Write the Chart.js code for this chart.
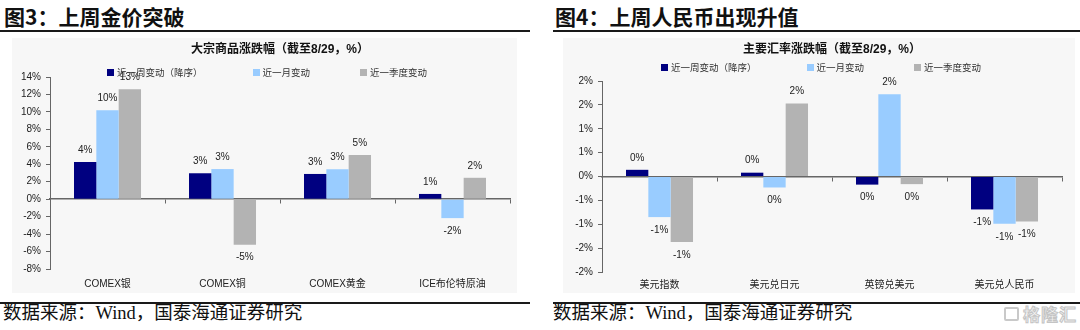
<!DOCTYPE html>
<html>
<head>
<meta charset="utf-8">
<script src="https://cdn.jsdelivr.net/npm/chart.js@4.4.1/dist/chart.umd.min.js"></script>
<style>
  html, body { margin: 0; padding: 0; background: #fff; width: 1080px; height: 330px; overflow: hidden; }
  .heading { position: absolute; top: 3px; font: bold 21px "Noto Sans CJK SC", sans-serif; color: #111; white-space: nowrap; line-height: 26px; }
  .rule { position: absolute; height: 2px; background: #1a1a1a; }
  .box { position: absolute; top: 38px; height: 255px; background: #f7f7f7; }
  .box canvas { position: absolute; left: 0; top: 0; }
  .ctitle { position: absolute; font: bold 12px "Liberation Sans", "Noto Sans CJK SC", sans-serif; color: #111; white-space: nowrap; transform: translate(-50%, -50%); }
  .legend { position: absolute; display: flex; align-items: center; gap: 50px; transform: translateY(-50%); font: 9.5px "Noto Sans CJK SC", sans-serif; color: #333; white-space: nowrap; }
  .legend .item { display: flex; align-items: center; }
  .legend .sw { width: 7px; height: 7px; margin-right: 3px; }
  .source { position: absolute; top: 302px; font: 18.5px "Liberation Serif", "Noto Sans CJK SC", serif; color: #111; white-space: nowrap; line-height: 23px; }
  .mark { position: absolute; left: 1004px; top: 304px; display: flex; align-items: center; gap: 4px; }
  .mark .icon { width: 15px; height: 14px; border: 2px solid #c9c9c9; border-radius: 2px; box-sizing: border-box; }
  .mark .txt { font: bold 17px "Noto Sans CJK SC", sans-serif; color: #f3f3f3; -webkit-text-stroke: 1px #c4c4c4; letter-spacing: 1px; line-height: 20px; }
</style>
</head>
<body>

<div class="heading" style="left:4px;">图3：上周金价突破</div>
<div class="rule" style="left:0; width:530px; top:30px;"></div>
<div class="box" style="left:12px; width:505px;"><canvas id="commodityChart" width="505" height="255"></canvas></div>
<div class="ctitle" style="left:280px; top:47px;">大宗商品涨跌幅（截至8/29，%）</div>
<div class="legend" id="commodityLegend" style="left:107px; top:72px;"></div>
<div class="rule" style="left:0; width:530px; top:302px;"></div>
<div class="source" style="left:3px;">数据来源：Wind，国泰海通证券研究</div>

<div class="heading" style="left:555px;">图4：上周人民币出现升值</div>
<div class="rule" style="left:553px; width:527px; top:30px;"></div>
<div class="box" style="left:563px; width:512px;"><canvas id="fxChart" width="512" height="255"></canvas></div>
<div class="ctitle" style="left:832px; top:47px;">主要汇率涨跌幅（截至8/29，%）</div>
<div class="legend" id="fxLegend" style="left:661px; top:67px;"></div>
<div class="rule" style="left:553px; width:527px; top:302px;"></div>
<div class="source" style="left:553px;">数据来源：Wind，国泰海通证券研究</div>

<div class="mark"><div class="icon"></div><div class="txt">格隆汇</div></div>

<script>
// Commodity price changes (%), as of 8/29
const commodityLabels = ['COMEX银', 'COMEX铜', 'COMEX黄金', 'ICE布伦特原油'];
const commodityWeek = [4.26, 2.97, 2.89, 0.60];
const commodityMonth = [10.20, 3.45, 3.43, -2.17];
const commodityQuarter = [12.60, -5.22, 5.06, 2.45];

// Major exchange rate changes (%), as of 8/29
const fxLabels = ['美元指数', '美元兑日元', '英镑兑美元', '美元兑人民币'];
const fxWeek = [0.14, 0.08, -0.17, -0.69];
const fxMonth = [-0.85, -0.23, 1.72, -0.99];
const fxQuarter = [-1.37, 1.53, -0.16, -0.94];

// Series shared by both charts
const seriesNames = ['近一周变动（降序）', '近一月变动', '近一季度变动'];
const seriesColors = ['#000080', '#99ccff', '#b3b3b3'];

// Value-axis ranges
const commodityAxis = { min: -8, max: 14, step: 2 };
const fxAxis = { min: -2, max: 2, step: 0.5 };

const LATIN = '"Liberation Sans", Arial, "Noto Sans CJK SC", sans-serif';

// Whole-percent text, halves rounded away from zero, no "-0%"
function pct(v) {
  const r = Math.round(Math.abs(v) + 1e-9);
  return (v < 0 && r > 0 ? '-' : '') + r + '%';
}

// Prints each bar's value above (positive) or below (negative) the bar
const valueLabels = {
  id: 'valueLabels',
  afterDatasetsDraw(chart, args, opts) {
    const ctx = chart.ctx;
    ctx.save();
    ctx.font = '10px ' + LATIN;
    ctx.fillStyle = '#222';
    ctx.textAlign = 'center';
    ctx.textBaseline = 'middle';
    chart.data.datasets.forEach((ds, i) => {
      chart.getDatasetMeta(i).data.forEach((bar, j) => {
        const v = ds.data[j];
        const y = v >= 0 ? bar.y - opts.above : bar.y + opts.below;
        ctx.fillText(pct(v), bar.x, y);
      });
    });
    ctx.restore();
  }
};

function buildLegend(el) {
  seriesNames.forEach((name, i) => {
    const item = document.createElement('div');
    item.className = 'item';
    const sw = document.createElement('span');
    sw.className = 'sw';
    sw.style.background = seriesColors[i];
    const tx = document.createElement('span');
    tx.textContent = name;
    item.appendChild(sw);
    item.appendChild(tx);
    el.appendChild(item);
  });
}

function buildChart(canvasId, labels, series, axis, geom) {
  return new Chart(document.getElementById(canvasId), {
    type: 'bar',
    data: {
      labels: labels,
      datasets: series.map((data, i) => ({
        label: seriesNames[i],
        data: data,
        backgroundColor: seriesColors[i],
        borderWidth: 0,
        barPercentage: 1,
        categoryPercentage: 0.583
      }))
    },
    options: {
      responsive: false,
      animation: false,
      devicePixelRatio: 1,
      layout: { padding: { left: 0, top: geom.top, right: geom.right, bottom: 0 } },
      plugins: {
        legend: { display: false },
        title: { display: false },
        tooltip: { enabled: false },
        valueLabels: { above: 12, below: 13 }
      },
      scales: {
        x: {
          position: 'bottom',
          grid: { display: false, drawTicks: false },
          border: { display: false },
          ticks: { padding: geom.xPad, color: '#222', font: { size: 10, family: LATIN }, maxRotation: 0, autoSkip: false },
          afterFit: s => { s.height = geom.xHeight; }
        },
        zero: {
          axis: 'x',
          type: 'category',
          position: { y: 0 },
          offset: true,
          ticks: { display: false },
          grid: { offset: true, drawOnChartArea: false, drawTicks: true, tickLength: 4, color: '#666', lineWidth: 1 },
          border: { display: true, color: '#666', width: 1.5 }
        },
        y: {
          min: axis.min,
          max: axis.max,
          ticks: { stepSize: axis.step, callback: v => pct(v), padding: 5, color: '#222', font: { size: 10, family: LATIN } },
          grid: { drawOnChartArea: false, drawTicks: true, tickLength: 4, color: '#666' },
          border: { display: true, color: '#666', width: 1 },
          afterFit: s => { s.width = geom.yWidth; }
        }
      }
    },
    plugins: [valueLabels]
  });
}

buildLegend(document.getElementById('commodityLegend'));
buildLegend(document.getElementById('fxLegend'));

buildChart('commodityChart', commodityLabels, [commodityWeek, commodityMonth, commodityQuarter], commodityAxis,
  { top: 39, right: 7, yWidth: 38, xHeight: 24, xPad: 9 });
buildChart('fxChart', fxLabels, [fxWeek, fxMonth, fxQuarter], fxAxis,
  { top: 43, right: 13, yWidth: 39, xHeight: 21, xPad: 7 });
</script>
</body>
</html>
